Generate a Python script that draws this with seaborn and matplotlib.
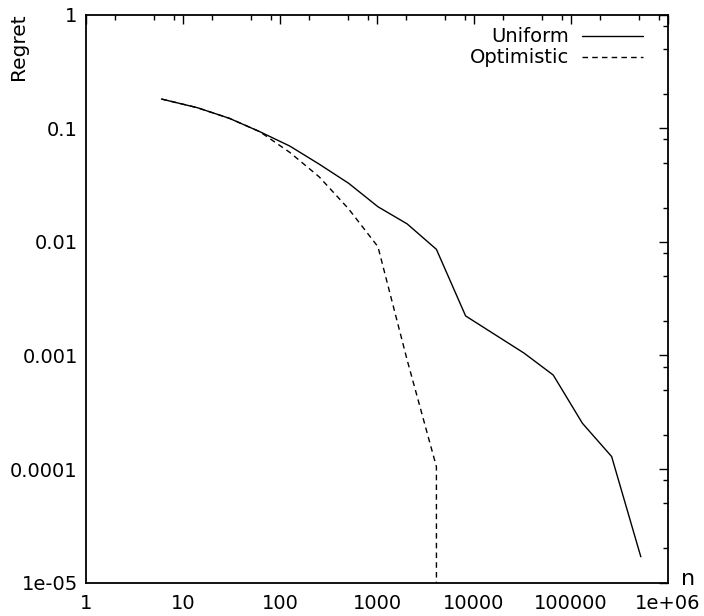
import matplotlib
matplotlib.use('Agg')
import matplotlib.pyplot as plt
import matplotlib.ticker as mticker
import seaborn as sns
import pandas as pd

# sample sizes (2^k - 2) and regret per strategy
n_values = [6, 14, 30, 62, 126, 254, 510, 1022, 2046, 4094, 8190,
            16382, 32766, 65534, 131070, 262142, 524286]
uniform_regret = [0.181, 0.152, 0.1225, 0.0933, 0.0698, 0.0483, 0.0328,
                  0.0204, 0.0144, 0.0086, 0.00223, 0.00153, 0.00105,
                  0.000673, 0.000253, 0.000129, 1.69e-5]
optimistic_regret = [0.181, 0.152, 0.1225, 0.0933, 0.0614, 0.0373, 0.0195,
                     0.00907, 0.00091, 0.000105, 0.0, 0.0, 0.0,
                     0.0, 0.0, 0.0, 0.0]

x_ticks = [1, 10, 100, 1000, 10000, 100000, 1000000]
x_tick_labels = ['1', '10', '100', '1000', '10000', '100000', '1e+06']
y_ticks = [1e-5, 1e-4, 1e-3, 1e-2, 1e-1, 1]
y_tick_labels = ['1e-05', '0.0001', '0.001', '0.01', '0.1', '1']

sns.set_style('white')
plt.rcParams.update({
    'font.family': ['DejaVu Sans'],
    'font.size': 14,
    'axes.linewidth': 1.3,
    'text.color': 'black',
    'axes.labelcolor': 'black',
    'xtick.color': 'black',
    'ytick.color': 'black',
})

df = pd.DataFrame({'n': n_values,
                   'Uniform': uniform_regret,
                   'Optimistic': optimistic_regret})

fig = plt.figure(figsize=(7.04, 6.16), dpi=100)
ax = fig.add_axes([0.1222, 0.0541, 0.8267, 0.9220])

sns.lineplot(data=df, x='n', y='Uniform', ax=ax, color='black',
             linewidth=1.0, estimator=None, label='Uniform')
sns.lineplot(data=df, x='n', y='Optimistic', ax=ax, color='black',
             linewidth=1.0, estimator=None, linestyle=(0, (4, 3)),
             label='Optimistic')

ax.set_xscale('log')
ax.set_yscale('log', nonpositive='clip')
ax.set_xlim(1, 1e6)
ax.set_ylim(1e-5, 1)

ax.xaxis.set_major_locator(mticker.FixedLocator(x_ticks))
ax.xaxis.set_major_formatter(mticker.FixedFormatter(x_tick_labels))
ax.yaxis.set_major_locator(mticker.FixedLocator(y_ticks))
ax.yaxis.set_major_formatter(mticker.FixedFormatter(y_tick_labels))
ax.xaxis.set_minor_locator(mticker.LogLocator(base=10, subs=(2, 5, 8)))
ax.yaxis.set_minor_locator(mticker.LogLocator(base=10, subs=(2, 5, 8)))
ax.xaxis.set_minor_formatter(mticker.NullFormatter())
ax.yaxis.set_minor_formatter(mticker.NullFormatter())

ax.tick_params(which='both', direction='in', top=True, right=True,
               color='black', width=1.0)
ax.tick_params(which='major', length=6.5, labelsize=14, labelcolor='black')
ax.tick_params(which='minor', length=3.5)
ax.tick_params(axis='x', which='major', pad=8)
ax.tick_params(axis='y', which='major', pad=6)

for spine in ax.spines.values():
    spine.set_color('black')

ax.set_ylabel('Regret', fontsize=14.5)
ax.yaxis.set_label_coords(-0.100, 0.943)
ax.set_xlabel('n', fontsize=16)
ax.xaxis.set_label_coords(1.034, -0.012)
ax.xaxis.label.set_va('bottom')

ax.legend(loc='upper right', bbox_to_anchor=(0.978, 1.0), frameon=False,
          markerfirst=False, handlelength=3.1, handletextpad=0.7,
          labelspacing=0.1, fontsize=14, borderaxespad=0.25)

fig.savefig('out.png', dpi=100, facecolor='white')
